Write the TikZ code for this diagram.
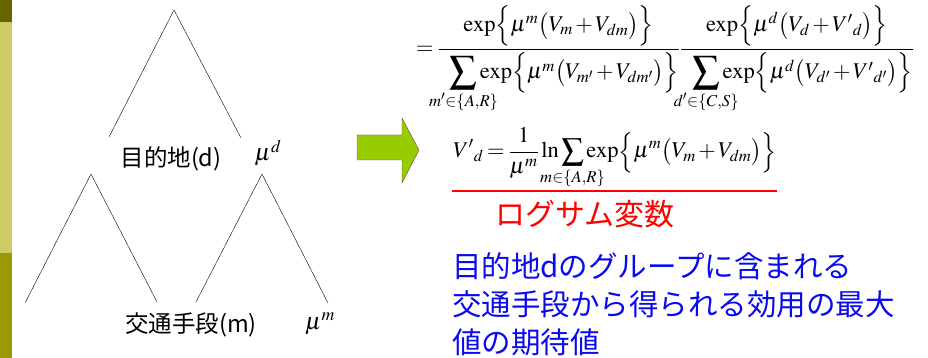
\documentclass[tikz,border=0pt]{standalone}
\usepackage[no-math]{fontspec}
\usepackage{mathtools}
\usepackage{mathptmx}
\usepackage{graphicx}
\newfontfamily\jp{Noto Sans CJK JP}
\usetikzlibrary{positioning}
\definecolor{barDark}{RGB}{102,102,0}
\definecolor{barLight}{RGB}{204,204,102}
\definecolor{barOlive}{RGB}{153,153,0}
\definecolor{arrowGreen}{RGB}{153,204,0}
\definecolor{noteBlue}{RGB}{10,10,240}
\newcommand{\sumAt}[1]{\mathop{\vcenter{\hbox{\scalebox{#1}{$\displaystyle\sum$}}}}\limits}
\newcommand{\ex}{\mathrm{exp}}
\newcommand{\tightmath}{\medmuskip=2mu\relax\thickmuskip=3mu\relax}

\begin{document}
\begin{tikzpicture}[x=1pt,y=-1pt,
    jp/.style={font=\jp\fontsize{23.5}{26}\selectfont},
    mu/.style={font=\fontsize{24}{28}\selectfont},
    eqn/.style={font=\fontsize{22.5}{26}\selectfont,inner sep=0pt}]
  \useasboundingbox (0,0) rectangle (928,358);
  % side bar
  \fill[barDark] (0,0) rectangle (12,22);
  \fill[barLight] (0,22) rectangle (12,253);
  \fill[barOlive] (0,253) rectangle (12,358);
  % tree
  \coordinate (top) at (174,10);
  \coordinate (topL) at (109,137);
  \coordinate (topR) at (241,138);
  \coordinate (leftA) at (91,174);
  \coordinate (leftL) at (25,303);
  \coordinate (leftR) at (157,302);
  \coordinate (rightA) at (262,174);
  \coordinate (rightL) at (196,302);
  \coordinate (rightR) at (328,303);
  \draw (topL) -- (top) -- (topR);
  \draw (leftL) -- (leftA) -- (leftR);
  \draw (rightL) -- (rightA) -- (rightR);
  \node[jp] (dest) at (171,159) {目的地(d)};
  \node[mu] (muD) at (268,153) {$\mu^d$};
  \node[jp] (mode) at (191,325) {交通手段(m)};
  \node[mu] (muM) at (320,324) {$\mu^m$};
  % arrow
  \draw[draw=gray!60!black,fill=arrowGreen] (357,135) -- (402,135) -- (402,118)
    -- (419,150) -- (402,183) -- (402,160) -- (357,160) -- cycle;
  % formulas
  \node[eqn,anchor=base] (prob) at (665,55) {\tightmath$\displaystyle
    = \frac{\ex\Bigl\{\mu^m\bigl(V_m+V_{dm}\bigr)\Bigr\}}
      {\kern0.5em\sumAt{1.2}_{\mathclap{m'\in\{A,R\}}}\ex\Bigl\{\mu^m\bigl(V_{m'}+V_{dm'}\bigr)\Bigr\}}
      \frac{\ex\Bigl\{\mu^d\bigl(V_d+V'{}_d\bigr)\Bigr\}}
      {\kern0.5em\sumAt{1.2}_{\mathclap{d'\in\{C,S\}}}\ex\Bigl\{\mu^d\bigl(V_{d'}+V'{}_{d'}\bigr)\Bigr\}}$};
  \node[eqn,anchor=base] (logsum) at (615,158) {\tightmath$\displaystyle
    V'{}_d = \frac{1}{\mu^m}\ln\sumAt{0.98}_{\mathclap{m\in\{A,R\}}}\ex\Bigl\{\mu^m\bigl(V_m+V_{dm}\bigr)\Bigr\}$};
  \coordinate (lineL) at (452,191);
  \coordinate (lineR) at (777,191);
  \draw[red,line width=2pt] (lineL) -- (lineR);
  \node[font=\jp\fontsize{30}{34}\selectfont,text=red] (logsumName) at (585,214) {ログサム変数};
  \node[font=\jp\fontsize{29.5}{38}\selectfont,text=noteBlue,anchor=north west,
    align=left,inner sep=0pt] (note) at (452,252)
    {目的地dのグループに含まれる\\交通手段から得られる効用の最大\\値の期待値};
\end{tikzpicture}
\end{document}
